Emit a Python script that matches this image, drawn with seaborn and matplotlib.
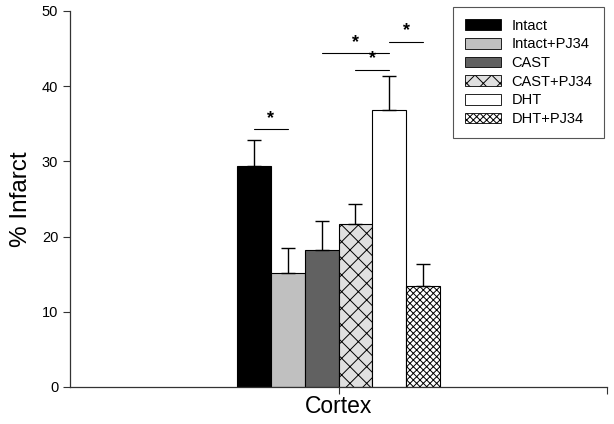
import numpy as np
import pandas as pd
import matplotlib
matplotlib.use("Agg")
import matplotlib.pyplot as plt
import seaborn as sns
from matplotlib.patches import Patch

# data
groups = ["Intact", "Intact+PJ34", "CAST", "CAST+PJ34", "DHT", "DHT+PJ34"]
infarct = [29.4, 15.2, 18.2, 21.7, 36.8, 13.4]
sem = [3.5, 3.3, 3.9, 2.6, 4.6, 2.9]
region = ["Cortex"] * 6

colors = ["#000000", "#c0c0c0", "#616161", "#e0e0e0", "#ffffff", "#ffffff"]
hatches = ["", "", "", "xx", "", "xxxxx"]

# significance brackets: (bar i, bar j, height)
sig_pairs = [(0, 1, 34.3), (2, 4, 44.4), (3, 4, 42.2), (4, 5, 45.9)]

df = pd.DataFrame({"region": region, "group": groups, "infarct": infarct})

sns.set_theme(style="ticks")
plt.rcParams["font.family"] = ["Liberation Sans", "DejaVu Sans"]
plt.rcParams["hatch.linewidth"] = 0.7
plt.rcParams["text.color"] = "black"
plt.rcParams["axes.labelcolor"] = "black"
plt.rcParams["xtick.color"] = "#333333"
plt.rcParams["ytick.color"] = "#333333"
plt.rcParams["xtick.labelcolor"] = "black"
plt.rcParams["ytick.labelcolor"] = "black"

fig = plt.figure(figsize=(6.14, 4.24), dpi=100)
ax = fig.add_axes([70 / 614, 1 - 387 / 424, 537 / 614, 376 / 424])

sns.barplot(data=df, x="region", y="infarct", hue="group", hue_order=groups,
            palette=colors, width=0.378, edgecolor="black", linewidth=0.8,
            legend=False, ax=ax)

bars = ax.patches[:6]
centers = []
for b, h in zip(bars, hatches):
    b.set_hatch(h)
    centers.append(b.get_x() + b.get_width() / 2)

ax.errorbar(centers, infarct, yerr=[np.zeros(6), sem], fmt="none",
            ecolor="black", elinewidth=1.0, capsize=5, capthick=1.0, zorder=1)

for i, j, h in sig_pairs:
    ax.plot([centers[i], centers[j]], [h, h], color="black", lw=0.8)
    ax.text((centers[i] + centers[j]) / 2, h + 0.3, "*", ha="center",
            va="bottom", fontsize=13, fontweight="bold")

ax.set_xlim(-0.5, 0.5)
ax.set_ylim(0, 50)
ax.set_yticks([0, 10, 20, 30, 40, 50])
ax.set_xticks([0, 0.5])
ax.set_xticklabels(["", ""])
ax.set_xlabel("Cortex", fontsize=16.5, labelpad=0)
ax.set_ylabel("% Infarct", fontsize=17.5, labelpad=7)
ax.tick_params(axis="y", labelsize=10.5, direction="out", length=5, width=0.8)
ax.tick_params(axis="x", direction="out", length=5, width=0.8, pad=1)
sns.despine(ax=ax)
for s in ["left", "bottom"]:
    ax.spines[s].set_color("#333333")
    ax.spines[s].set_linewidth(0.9)

handles = [Patch(facecolor=c, edgecolor="black", hatch=h, linewidth=0.6)
           for c, h in zip(colors, hatches)]
leg = fig.legend(handles, groups, loc="upper right",
                 bbox_to_anchor=(604 / 614, 1 - 7 / 424), fontsize=10.5,
                 handlelength=2.5, handleheight=0.75, labelspacing=0.32,
                 handletextpad=0.7, borderpad=0.8, borderaxespad=0,
                 fancybox=False, framealpha=1, edgecolor="#555555")
leg.get_frame().set_linewidth(0.8)

fig.savefig("out.png", dpi=100)
